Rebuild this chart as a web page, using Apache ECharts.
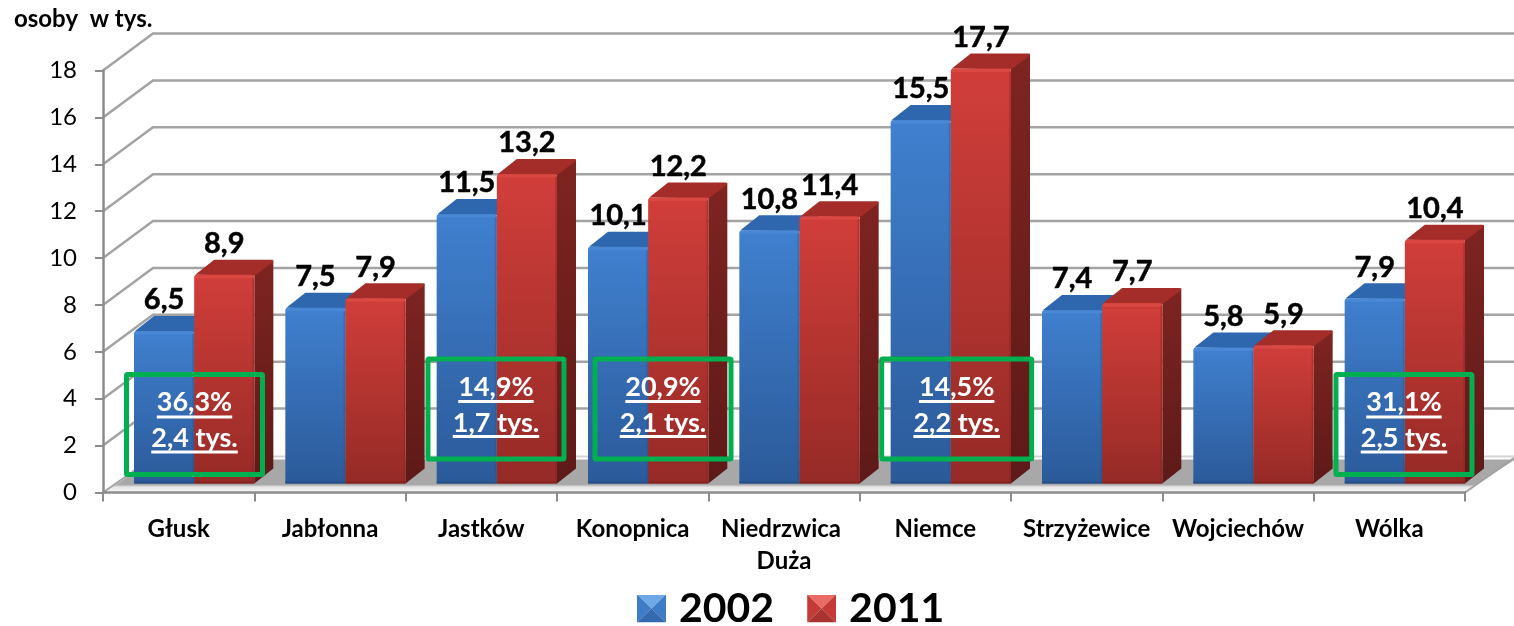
<!DOCTYPE html>
<html><head><meta charset="utf-8">
<style>html,body{margin:0;padding:0;background:#fff}#c{width:1514px;height:626px}</style>
<script src="https://cdn.jsdelivr.net/npm/echarts@6/dist/echarts.min.js"></script>
</head><body><div id="c"></div>
<script>
const categories = ['Głusk','Jabłonna','Jastków','Konopnica','Niedrzwica Duża','Niemce','Strzyżewice','Wojciechów','Wólka'];
const values2002 = [6.5,7.5,11.5,10.1,10.8,15.5,7.4,5.8,7.9];
const values2011 = [8.9,7.9,13.2,12.2,11.4,17.7,7.7,5.9,10.4];
const yTicks = [0,2,4,6,8,10,12,14,16,18];
const noteCategory = [0,2,3,5,8];
const notePercent = ['36,3%','14,9%','20,9%','14,5%','31,1%'];
const noteChange = ['2,4 tys.','1,7 tys.','2,1 tys.','2,2 tys.','2,5 tys.'];

// layout / style constants
const FONT = 'Lato';
const WALL = {dx: 50, dy: -37};
const BAR = {inset: 31, lift: 9, dx: 19, dy: -15};
const noteBoxCenterX = [91.5, 90.3, 106, 97, 90.3];
const noteBoxCenterY = [424.5, 409, 409, 409, 424.5];
const noteBoxW = [136,136,136,150,136];
const NOTE_H = 100;

const mctx = document.createElement('canvas').getContext('2d');
function textW(t, font){ mctx.font = font; return mctx.measureText(t).width; }
function lin(a, b, x2, y2){
  return new echarts.graphic.LinearGradient(0,0,x2||0,y2===undefined?1:y2,[{offset:0,color:a},{offset:1,color:b}]);
}
function icon(c1,c2,c3,c4){
  const svg = "<svg xmlns='http://www.w3.org/2000/svg' width='29' height='28'>"
   + "<polygon points='0,0 29,0 14.5,14' fill='"+c1+"'/>"
   + "<polygon points='0,0 14.5,14 0,28' fill='"+c2+"'/>"
   + "<polygon points='29,0 14.5,14 29,28' fill='"+c3+"'/>"
   + "<polygon points='0,28 29,28 14.5,14' fill='"+c4+"'/></svg>";
  return 'image://data:image/svg+xml;charset=utf-8,' + encodeURIComponent(svg);
}

function barRender(slot, colors){
  return function(params, api){
    const i = api.value(0), v = api.value(1);
    const band = api.size([1,0])[0];
    const base = api.coord([i,0]), top = api.coord([i,v]);
    const w = (band - BAR.inset)/2;
    const x = base[0]-band/2+BAR.inset+slot*w;
    const yb = base[1]-BAR.lift, yt = top[1]-BAR.lift;
    const {dx,dy} = BAR;
    return {type:'group',children:[
      {type:'polygon',shape:{points:[[x+w,yt],[x+w+dx,yt+dy],[x+w+dx,yb+dy],[x+w,yb]]},
        style:{fill:lin(colors.side1,colors.side2)}},
      {type:'polygon',shape:{points:[[x+1,yt],[x+dx+1,yt+dy],[x+w+dx-1,yt+dy],[x+w+dx,yt+dy+2],[x+w,yt+1]]},
        style:{fill:colors.top}},
      {type:'rect',shape:{x:x,y:yt,width:w,height:yb-yt,r:[3,3,1,1]},
        style:{fill:lin(colors.front1,colors.front2)}},
      {type:'rect',shape:{x:x+0.5,y:yt+0.5,width:w-1,height:3,r:[2,2,0,0]},
        style:{fill:colors.rim}},
      {type:'rect',shape:{x:x,y:yb-2,width:w,height:2},style:{fill:colors.edge}},
      {type:'rect',shape:{x:x+w-2,y:yt+3,width:2,height:yb-yt-3},style:{fill:colors.edge,opacity:.35}},
      {type:'text',z2:50,style:{x:x+w/2,y:yt-31,text:String(v.toFixed(1)).replace('.',','),
        font:'bold 29px '+FONT,fill:'#000',stroke:'#000',lineWidth:0.5,align:'center',verticalAlign:'middle'}}
    ]};
  };
}
const blue = {front1:'#4080cf',front2:'#2b5a99',side1:'#2a5a9a',side2:'#1f4272',top:'#2e67ad',rim:'#4a88d6',edge:'#274f86'};
const red  = {front1:'#d13e3a',front2:'#952a26',side1:'#7e2421',side2:'#5d1a18',top:'#a52d29',rim:'#d94843',edge:'#84231f'};

function wallRender(params, api){
  const t = api.value(1);
  const cs = params.coordSys;
  const y = api.coord([0,t])[1];
  const x0 = cs.x, x1 = cs.x+cs.width;
  const line = {stroke:'#a3a3a3',lineWidth:2.5,fill:null};
  const kids = [];
  if(t===0){
    kids.push({type:'polygon',shape:{points:[[x0+3,y-1],[x0+WALL.dx,y+WALL.dy+4],[x1+WALL.dx,y+WALL.dy+4],[x1,y-1]]},
      style:{fill:new echarts.graphic.LinearGradient(0,0,0,1,[
        {offset:0,color:'#a8a8a8'},{offset:.78,color:'#a8a8a8'},{offset:.86,color:'#e6e6e6'},{offset:1,color:'#f4f4f4'}])}});
    kids.push({type:'polyline',shape:{points:[[x0+WALL.dx,y+WALL.dy+1],[x1+WALL.dx,y+WALL.dy+1]]},style:{stroke:'#d4d4d4',lineWidth:2,fill:null}});
    kids.push({type:'line',shape:{x1:x1,y1:y,x2:x1+WALL.dx,y2:y+WALL.dy+2},style:{stroke:'#a3a3a3',lineWidth:2}});
    kids.push({type:'line',shape:{x1:x0,y1:y,x2:x0+WALL.dx,y2:y+WALL.dy+2},style:{stroke:'#a3a3a3',lineWidth:2}});
  } else {
    kids.push({type:'polyline',shape:{points:[[x0,y],[x0+WALL.dx,y+WALL.dy],[x1+WALL.dx,y+WALL.dy]]},style:line});
  }
  return {type:'group',children:kids};
}

function noteRender(params, api){
  const k = api.value(2);
  const i = api.value(0);
  const band = api.size([1,0])[0];
  const left = api.coord([i,0])[0]-band/2;
  const cx = left+noteBoxCenterX[k], cy = noteBoxCenterY[k], w = noteBoxW[k];
  const font = 'bold 27px '+FONT;
  const a = notePercent[k], b = noteChange[k];
  const wa = textW(a,font), wb = textW(b,font);
  return {type:'group',children:[
    {type:'rect',shape:{x:cx-w/2,y:cy-NOTE_H/2,width:w,height:NOTE_H,r:1},style:{fill:null,stroke:'#00b050',lineWidth:5}},
    {type:'text',style:{x:cx,y:cy-22,text:a,font:font,fill:'#fff',align:'center',verticalAlign:'middle'}},
    {type:'rect',shape:{x:cx-wa/2,y:cy-9,width:wa,height:3},style:{fill:'#fff'}},
    {type:'text',style:{x:cx,y:cy+14,text:b,font:font,fill:'#fff',align:'center',verticalAlign:'middle'}},
    {type:'rect',shape:{x:cx-wb/2,y:cy+26,width:wb,height:3},style:{fill:'#fff'}}
  ]};
}

const chart = echarts.init(document.getElementById('c'),null,{renderer:'canvas'});
chart.setOption({
  animation:false,
  backgroundColor:'#fff',
  title:{text:'osoby  w tys.',left:9,top:2,textStyle:{fontFamily:FONT,fontWeight:'bold',fontSize:24,color:'#000'}},
  legend:{
    left:632,top:583,itemWidth:29,itemHeight:28,itemGap:33,
    selectedMode:false,
    textStyle:{fontFamily:FONT,fontWeight:'bold',fontSize:41,color:'#000',padding:[0,0,0,8]},
    data:[
      {name:'2002',icon:icon('#6ea8e6','#3f7cc6','#3f7cc6','#3469ad')},
      {name:'2011',icon:icon('#ea6a66','#c43a36','#c43a36','#a83330')}
    ]
  },
  grid:{left:103,right:49,top:70.5,height:422,containLabel:false},
  xAxis:{type:'category',data:categories,boundaryGap:true,z:2,
    axisLine:{lineStyle:{color:'#8c8c8c',width:2.5}},
    axisTick:{show:true,length:9,interval:0,lineStyle:{color:'#8c8c8c',width:2}},
    axisLabel:{interval:0,margin:21,width:150,overflow:'break',lineHeight:32,
      fontFamily:FONT,fontWeight:'bold',fontSize:24,color:'#000'}},
  yAxis:{type:'value',min:0,max:18,interval:2,z:2,
    axisLine:{show:true,lineStyle:{color:'#8c8c8c',width:2.5}},
    axisTick:{show:true,length:8,lineStyle:{color:'#8c8c8c',width:2}},
    splitLine:{show:false},
    axisLabel:{margin:26,fontFamily:FONT,fontSize:24,color:'#000'}},
  series:[
    {type:'custom',name:'wall',z:1,silent:true,renderItem:wallRender,encode:{x:0,y:1},
     data:yTicks.map(t=>[0,t])},
    {type:'custom',name:'2002',z:3,renderItem:barRender(0,blue),encode:{x:0,y:1},
     itemStyle:{color:'#3c78c2'},data:values2002.map((v,i)=>[i,v])},
    {type:'custom',name:'2011',z:4,renderItem:barRender(1,red),encode:{x:0,y:1},
     itemStyle:{color:'#c43a36'},data:values2011.map((v,i)=>[i,v])},
    {type:'custom',name:'notes',z:5,silent:true,renderItem:noteRender,encode:{x:0,y:1},
     data:noteCategory.map((c,k)=>[c,0,k])}
  ]
});
</script></body></html>
